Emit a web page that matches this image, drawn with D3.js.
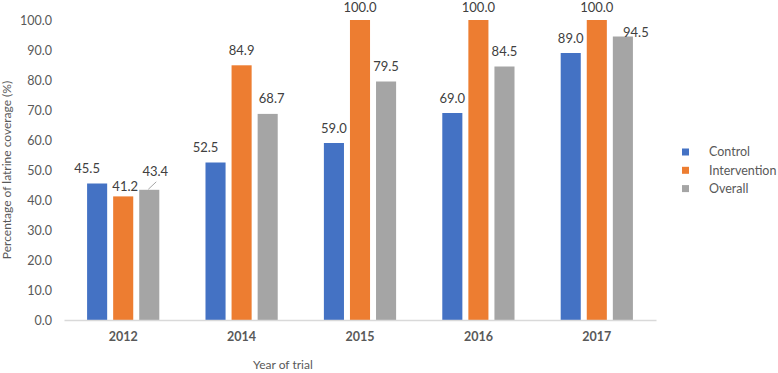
<!DOCTYPE html>
<html>
<head>
<meta charset="utf-8">
<script src="https://cdn.jsdelivr.net/npm/d3@7"></script>
<style>
  body { margin: 0; background: #fff; }
  svg { display: block; font-family: Lato, "Open Sans", sans-serif; }
</style>
</head>
<body>
<svg id="chart" width="778" height="373"></svg>
<script>
// chart data
var years = ['2012', '2014', '2015', '2016', '2017'];
var seriesNames = ['Control', 'Intervention', 'Overall'];
var control = [45.5, 52.5, 59.0, 69.0, 89.0];
var intervention = [41.2, 84.9, 100.0, 100.0, 100.0];
var overall = [43.4, 68.7, 79.5, 84.5, 94.5];
var yTicks = [0, 10, 20, 30, 40, 50, 60, 70, 80, 90, 100];

var colors = ['#4472C4', '#ED7D31', '#A5A5A5'];

// labels that Excel pushed aside to avoid overlapping
var labelNudge = {
  'Control|2012': { dx: -10, dy: 0 },
  'Intervention|2012': { dx: 2, dy: 5.5 },
  'Overall|2012': { dx: 6, dy: -3, leader: true },
  'Control|2014': { dx: -10, dy: 0 },
  'Overall|2014': { dx: 4, dy: 0 },
  'Overall|2017': { dx: 13, dy: 10.5 }
};

var svg = d3.select('#chart');

var margin = { top: 20, right: 122, bottom: 53, left: 64 },
  width = +svg.attr('width') - margin.left - margin.right,
  height = +svg.attr('height') - margin.top - margin.bottom;

var g = svg.append('g').attr('transform', `translate(${margin.left},${margin.top})`);

var x0 = d3.scaleBand().domain(years).range([0, width]).paddingInner(0.39).paddingOuter(0.195);
var x1 = d3.scaleBand().domain(seriesNames).range([0, x0.bandwidth()]).paddingInner(0.23);
var y = d3.scaleLinear().domain([0, 100]).range([height, 0]);

var datasets = [control, intervention, overall];

// y axis (labels only)
var yAxis = g.append('g')
  .call(d3.axisLeft(y).tickValues(yTicks).tickSize(0).tickPadding(12).tickFormat(d3.format('.1f')));
yAxis.select('.domain').remove();
yAxis.selectAll('text')
  .attr('fill', '#595959')
  .style('font-size', '12.5px')
  .style('font-family', 'Lato, sans-serif');

// bars
seriesNames.forEach(function(name, si) {
  var grp = g.append('g').attr('class', 'series-' + si);
  grp.selectAll('rect')
    .data(datasets[si])
    .enter()
    .append('rect')
    .attr('x', (d, i) => x0(years[i]) + x1(name))
    .attr('width', x1.bandwidth())
    .attr('y', d => y(d))
    .attr('height', d => height - y(d))
    .attr('fill', colors[si]);
});

// value labels
seriesNames.forEach(function(name, si) {
  datasets[si].forEach(function(d, i) {
    var nudge = labelNudge[name + '|' + years[i]] || { dx: 0, dy: 0 };
    var cx = x0(years[i]) + x1(name) + x1.bandwidth() / 2;
    // keep the top labels inside the picture
    var ty = Math.max(y(d) - 15 + nudge.dy, -12.5);
    g.append('text')
      .attr('x', cx + nudge.dx)
      .attr('y', ty)
      .attr('dy', '0.35em')
      .attr('text-anchor', 'middle')
      .attr('fill', '#404040')
      .style('font-size', '13px')
      .text(d3.format('.1f')(d));
    if (nudge.leader) {
      g.append('line')
        .attr('x1', cx - 1)
        .attr('y1', y(d) - 0.5)
        .attr('x2', cx + 7)
        .attr('y2', y(d) - 8)
        .attr('stroke', '#a6a6a6')
        .attr('stroke-width', 1);
    }
  });
});

// x axis
var xAxis = g.append('g')
  .attr('transform', `translate(0,${height})`)
  .call(d3.axisBottom(x0).tickSize(0).tickPadding(12));
xAxis.select('.domain')
  .attr('stroke', '#d9d9d9')
  .attr('stroke-width', 1.5);
xAxis.selectAll('text')
  .attr('fill', '#595959')
  .style('font-size', '12.5px')
  .style('font-weight', 'bold')
  .style('font-family', 'Lato, sans-serif');

// axis titles
svg.append('text')
  .attr('x', 253)
  .attr('y', 365)
  .attr('dy', '0.35em')
  .attr('fill', '#595959')
  .style('font-size', '12px')
  .text('Year of trial');

svg.append('text')
  .attr('transform', `translate(7,${margin.top + height / 2}) rotate(-90)`)
  .attr('dy', '0.35em')
  .attr('text-anchor', 'middle')
  .attr('fill', '#595959')
  .style('font-size', '12px')
  .text('Percentage of latrine coverage (%)');

// legend
var legend = svg.append('g')
  .attr('transform', 'translate(682,152)')
  .selectAll('g')
  .data(seriesNames)
  .enter()
  .append('g')
  .attr('transform', (d, i) => `translate(0,${i * 18.3})`);

legend.append('rect')
  .attr('x', 0)
  .attr('y', -3.5)
  .attr('width', 7)
  .attr('height', 7)
  .attr('fill', (d, i) => colors[i]);

legend.append('text')
  .attr('x', 27)
  .attr('dy', '0.35em')
  .attr('fill', '#595959')
  .style('font-size', '12.5px')
  .text(d => d);
</script>
</body>
</html>
